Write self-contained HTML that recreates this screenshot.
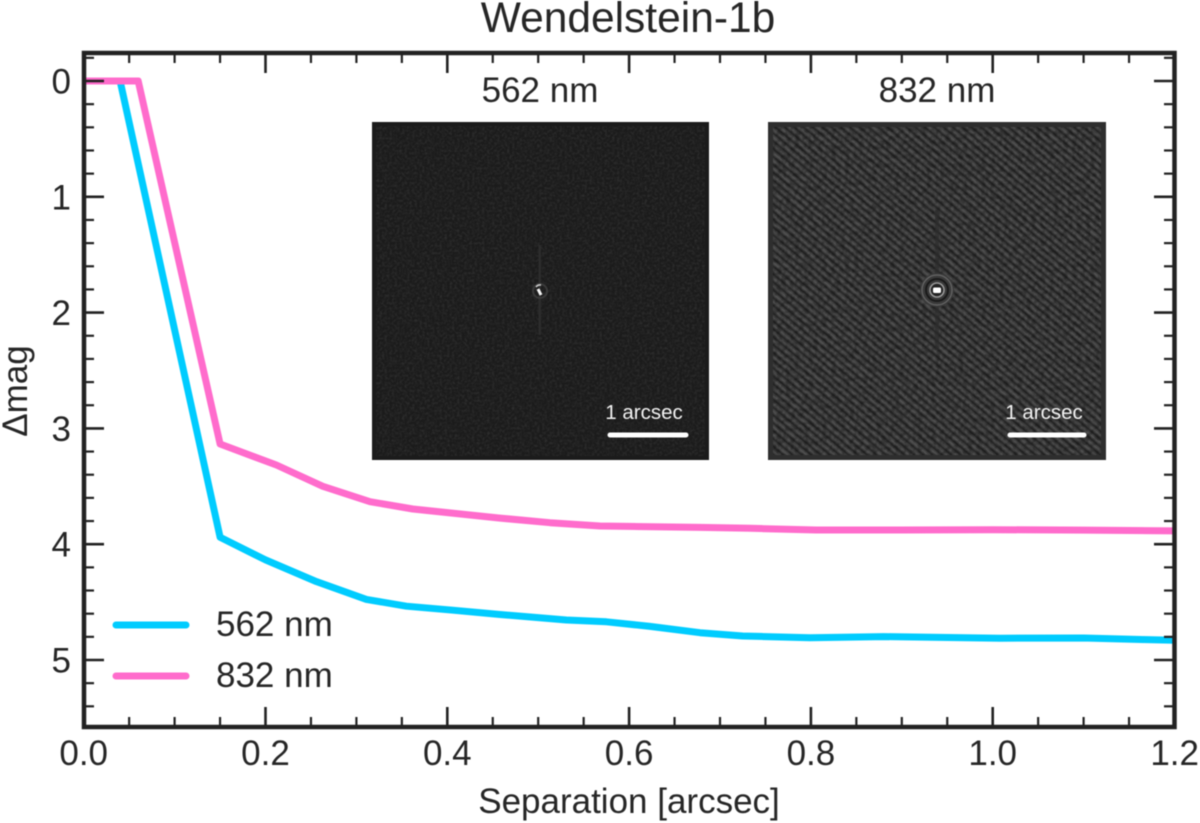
<!DOCTYPE html>
<html lang="en">
<head>
<meta charset="utf-8">
<title>Wendelstein-1b</title>
<style>
html,body{margin:0;padding:0;background:#fff;}
svg{display:block;filter:blur(0.45px);}
text{font-family:"Liberation Sans",sans-serif;fill:#262626;}
</style>
</head>
<body>
<svg id="chart" xmlns="http://www.w3.org/2000/svg" width="1200" height="823" viewBox="0 0 1200 823">
  <defs>
    <filter id="noiseDark" x="0" y="0" width="100%" height="100%">
      <feTurbulence type="fractalNoise" baseFrequency="0.4" numOctaves="2" seed="4"/>
      <feColorMatrix type="matrix" values="0 0 0 0 1  0 0 0 0 1  0 0 0 0 1  1.1 0 0 0 -0.42"/>
    </filter>
    <filter id="noiseLight" x="0" y="0" width="100%" height="100%">
      <feTurbulence type="fractalNoise" baseFrequency="0.22 0.22" numOctaves="2" seed="9"/>
      <feColorMatrix type="matrix" values="0 0 0 0 0  0 0 0 0 0  0 0 0 0 0  3 0 0 0 -1.1"/>
    </filter>
    <pattern id="stripes" width="6" height="6" patternUnits="userSpaceOnUse" patternTransform="rotate(40)">
      <rect width="6" height="6" fill="#424242"/>
      <rect width="6" height="2" fill="#2a2a2a"/>
      <rect y="3.5" width="6" height="1.2" fill="#535353"/>
    </pattern>
    <clipPath id="plotClip"><rect x="84" y="53" width="1090" height="674"/></clipPath>
  </defs>

  <text x="628" y="32" font-size="42.5" text-anchor="middle">Wendelstein-1b</text>

  <g>
    <rect x="372" y="122" width="337" height="338" fill="#1b1b1b"/>
    <rect x="376" y="126" width="329" height="330" filter="url(#noiseDark)" opacity="0.16"/>
    <rect x="538.5" y="245" width="2.5" height="90" fill="#2c2c2c"/>
    <circle cx="540" cy="291" r="7" fill="none" stroke="#3a3a3a" stroke-width="2"/>
    <path d="M536 287 A5 5 0 0 1 541 285" fill="none" stroke="#ccc" stroke-width="1.6"/>
    <path d="M538 289 L541 295" fill="none" stroke="#f4f4f4" stroke-width="3"/>
    <text x="540" y="102" font-size="35" text-anchor="middle">562 nm</text>
    <text x="644" y="419" font-size="20.5" text-anchor="middle" style="fill:#f2f2f2">1 arcsec</text>
    <line x1="610" y1="435" x2="686" y2="435" stroke="#fff" stroke-width="5" stroke-linecap="round"/>
  </g>

  <g>
    <rect x="768" y="122" width="338" height="338" fill="url(#stripes)"/>
    <rect x="768" y="122" width="338" height="338" filter="url(#noiseLight)" opacity="0.3"/>
    <rect x="770.5" y="124.5" width="333" height="333" fill="none" stroke="#2e2e2e" stroke-width="5"/>
    <rect x="935" y="210" width="4" height="140" fill="#2c2c2c" opacity="0.7"/>
    <circle cx="937" cy="290" r="17" fill="#3a3a3a"/>
    <circle cx="937" cy="290" r="15" fill="none" stroke="#666" stroke-width="1.2"/>
    <circle cx="937" cy="290" r="11" fill="none" stroke="#1a1a1a" stroke-width="2"/>
    <circle cx="937" cy="290" r="7" fill="#222" stroke="#999" stroke-width="1.6"/>
    <rect x="933" y="287.5" width="8" height="5.5" rx="1.5" fill="#fff"/>
    <text x="937" y="102" font-size="35" text-anchor="middle">832 nm</text>
    <text x="1044" y="419" font-size="20.5" text-anchor="middle" style="fill:#f2f2f2">1 arcsec</text>
    <line x1="1010" y1="435" x2="1084" y2="435" stroke="#fff" stroke-width="5" stroke-linecap="round"/>
  </g>

  <g id="series" clip-path="url(#plotClip)"></g>
  <g id="ticks"></g>
  <rect x="84" y="53" width="1090.5" height="674" fill="none" stroke="#222" stroke-width="4.5"/>
  <g id="tickLabels"></g>

  <text x="629" y="813" font-size="35" text-anchor="middle">Separation [arcsec]</text>
  <text transform="translate(27,391) rotate(-90)" font-size="35" text-anchor="middle">Δmag</text>

  <g>
    <g>
      <line x1="116" y1="625" x2="186" y2="625" stroke="#00ccff" stroke-width="7" stroke-linecap="round"/>
      <text x="216" y="636" font-size="35">562 nm</text>
    </g>
    <g>
      <line x1="116" y1="676" x2="186" y2="676" stroke="#ff6ccc" stroke-width="7" stroke-linecap="round"/>
      <text x="216" y="687" font-size="35">832 nm</text>
    </g>
  </g>
</svg>
<script>
var xTickLabels = ['0.0', '0.2', '0.4', '0.6', '0.8', '1.0', '1.2'];
var yTickLabels = ['0', '1', '2', '3', '4', '5'];
var sep562 = [0.04, 0.15, 0.20, 0.256, 0.311, 0.355, 0.406, 0.458, 0.531, 0.575, 0.623, 0.678, 0.725, 0.799, 0.88, 1.008, 1.10, 1.20];
var mag562 = [0.00, 3.94, 4.136, 4.323, 4.477, 4.535, 4.57, 4.607, 4.655, 4.67, 4.71, 4.764, 4.793, 4.807, 4.798, 4.812, 4.81, 4.83];
var sep832 = [0.00, 0.06, 0.15, 0.212, 0.263, 0.315, 0.362, 0.458, 0.513, 0.568, 0.678, 0.733, 0.806, 0.898, 1.00, 1.10, 1.20];
var mag832 = [0.00, 0.00, 3.135, 3.316, 3.50, 3.633, 3.696, 3.775, 3.814, 3.843, 3.855, 3.863, 3.877, 3.877, 3.875, 3.878, 3.885];

var NS = 'http://www.w3.org/2000/svg';
function xScale(v) { return 83.7 + v * 909; }
function yScale(v) { return 81 + v * 115.8; }

function line(parent, x1, y1, x2, y2, width) {
  var l = document.createElementNS(NS, 'line');
  l.setAttribute('x1', x1);
  l.setAttribute('y1', y1);
  l.setAttribute('x2', x2);
  l.setAttribute('y2', y2);
  l.setAttribute('stroke', '#222');
  l.setAttribute('stroke-width', width);
  parent.appendChild(l);
  return l;
}

function drawSeries(xs, ys, color, name) {
  var pts = xs.map(function (x, i) { return xScale(x).toFixed(1) + ',' + yScale(ys[i]).toFixed(1); });
  var p = document.createElementNS(NS, 'polyline');
  p.setAttribute('points', pts.join(' '));
  p.setAttribute('fill', 'none');
  p.setAttribute('stroke', color);
  p.setAttribute('stroke-width', '7');
  p.setAttribute('stroke-linejoin', 'round');
  
  
  document.getElementById('series').appendChild(p);
}

drawSeries(sep562, mag562, '#00ccff', 'series-562-nm');
drawSeries(sep832, mag832, '#ff6ccc', 'series-832-nm');

var ticks = document.getElementById('ticks');
var labels = document.getElementById('tickLabels');

xTickLabels.forEach(function (lab, i) {
  var v = parseFloat(lab);
  var xp = xScale(v);
  if (i > 0 && i < xTickLabels.length - 1) {
    var b = line(ticks, xp, 727, xp, 707, 2.6);
    
    
    var t = line(ticks, xp, 53, xp, 73, 2.6);
    
    
  }
  if (i < xTickLabels.length - 1) {
    for (var k = 1; k < 4; k++) {
      var mx = xScale(v + k * 0.05);
      var mb = line(ticks, mx, 727, mx, 717, 2.2);
      
      
      var mt = line(ticks, mx, 53, mx, 63, 2.2);
      
      
    }
  }
  var tx = document.createElementNS(NS, 'text');
  tx.setAttribute('x', xp);
  tx.setAttribute('y', 765);
  tx.setAttribute('font-size', '35');
  tx.setAttribute('text-anchor', i === xTickLabels.length - 1 ? 'end' : 'middle');
  if (i === xTickLabels.length - 1) { tx.setAttribute('x', 1199); }
  tx.textContent = lab;
  
  
  labels.appendChild(tx);
});

yTickLabels.forEach(function (lab) {
  var v = parseFloat(lab);
  var yp = yScale(v);
  var l = line(ticks, 84, yp, 104, yp, 2.6);
  
  
  var r = line(ticks, 1174, yp, 1154, yp, 2.6);
  
  
  var tx = document.createElementNS(NS, 'text');
  tx.setAttribute('x', 71);
  tx.setAttribute('y', yp + 12.5);
  tx.setAttribute('font-size', '35');
  tx.setAttribute('text-anchor', 'end');
  tx.textContent = lab;
  
  
  labels.appendChild(tx);
});

for (var j = -1; j <= 27; j++) {
  if (j % 5 === 0) { continue; }
  var yMinor = yScale(j * 0.2);
  var ml = line(ticks, 84, yMinor, 94, yMinor, 2.2);
  
  
  var mr = line(ticks, 1174, yMinor, 1164, yMinor, 2.2);
  
  
}
</script>
</body>
</html>
